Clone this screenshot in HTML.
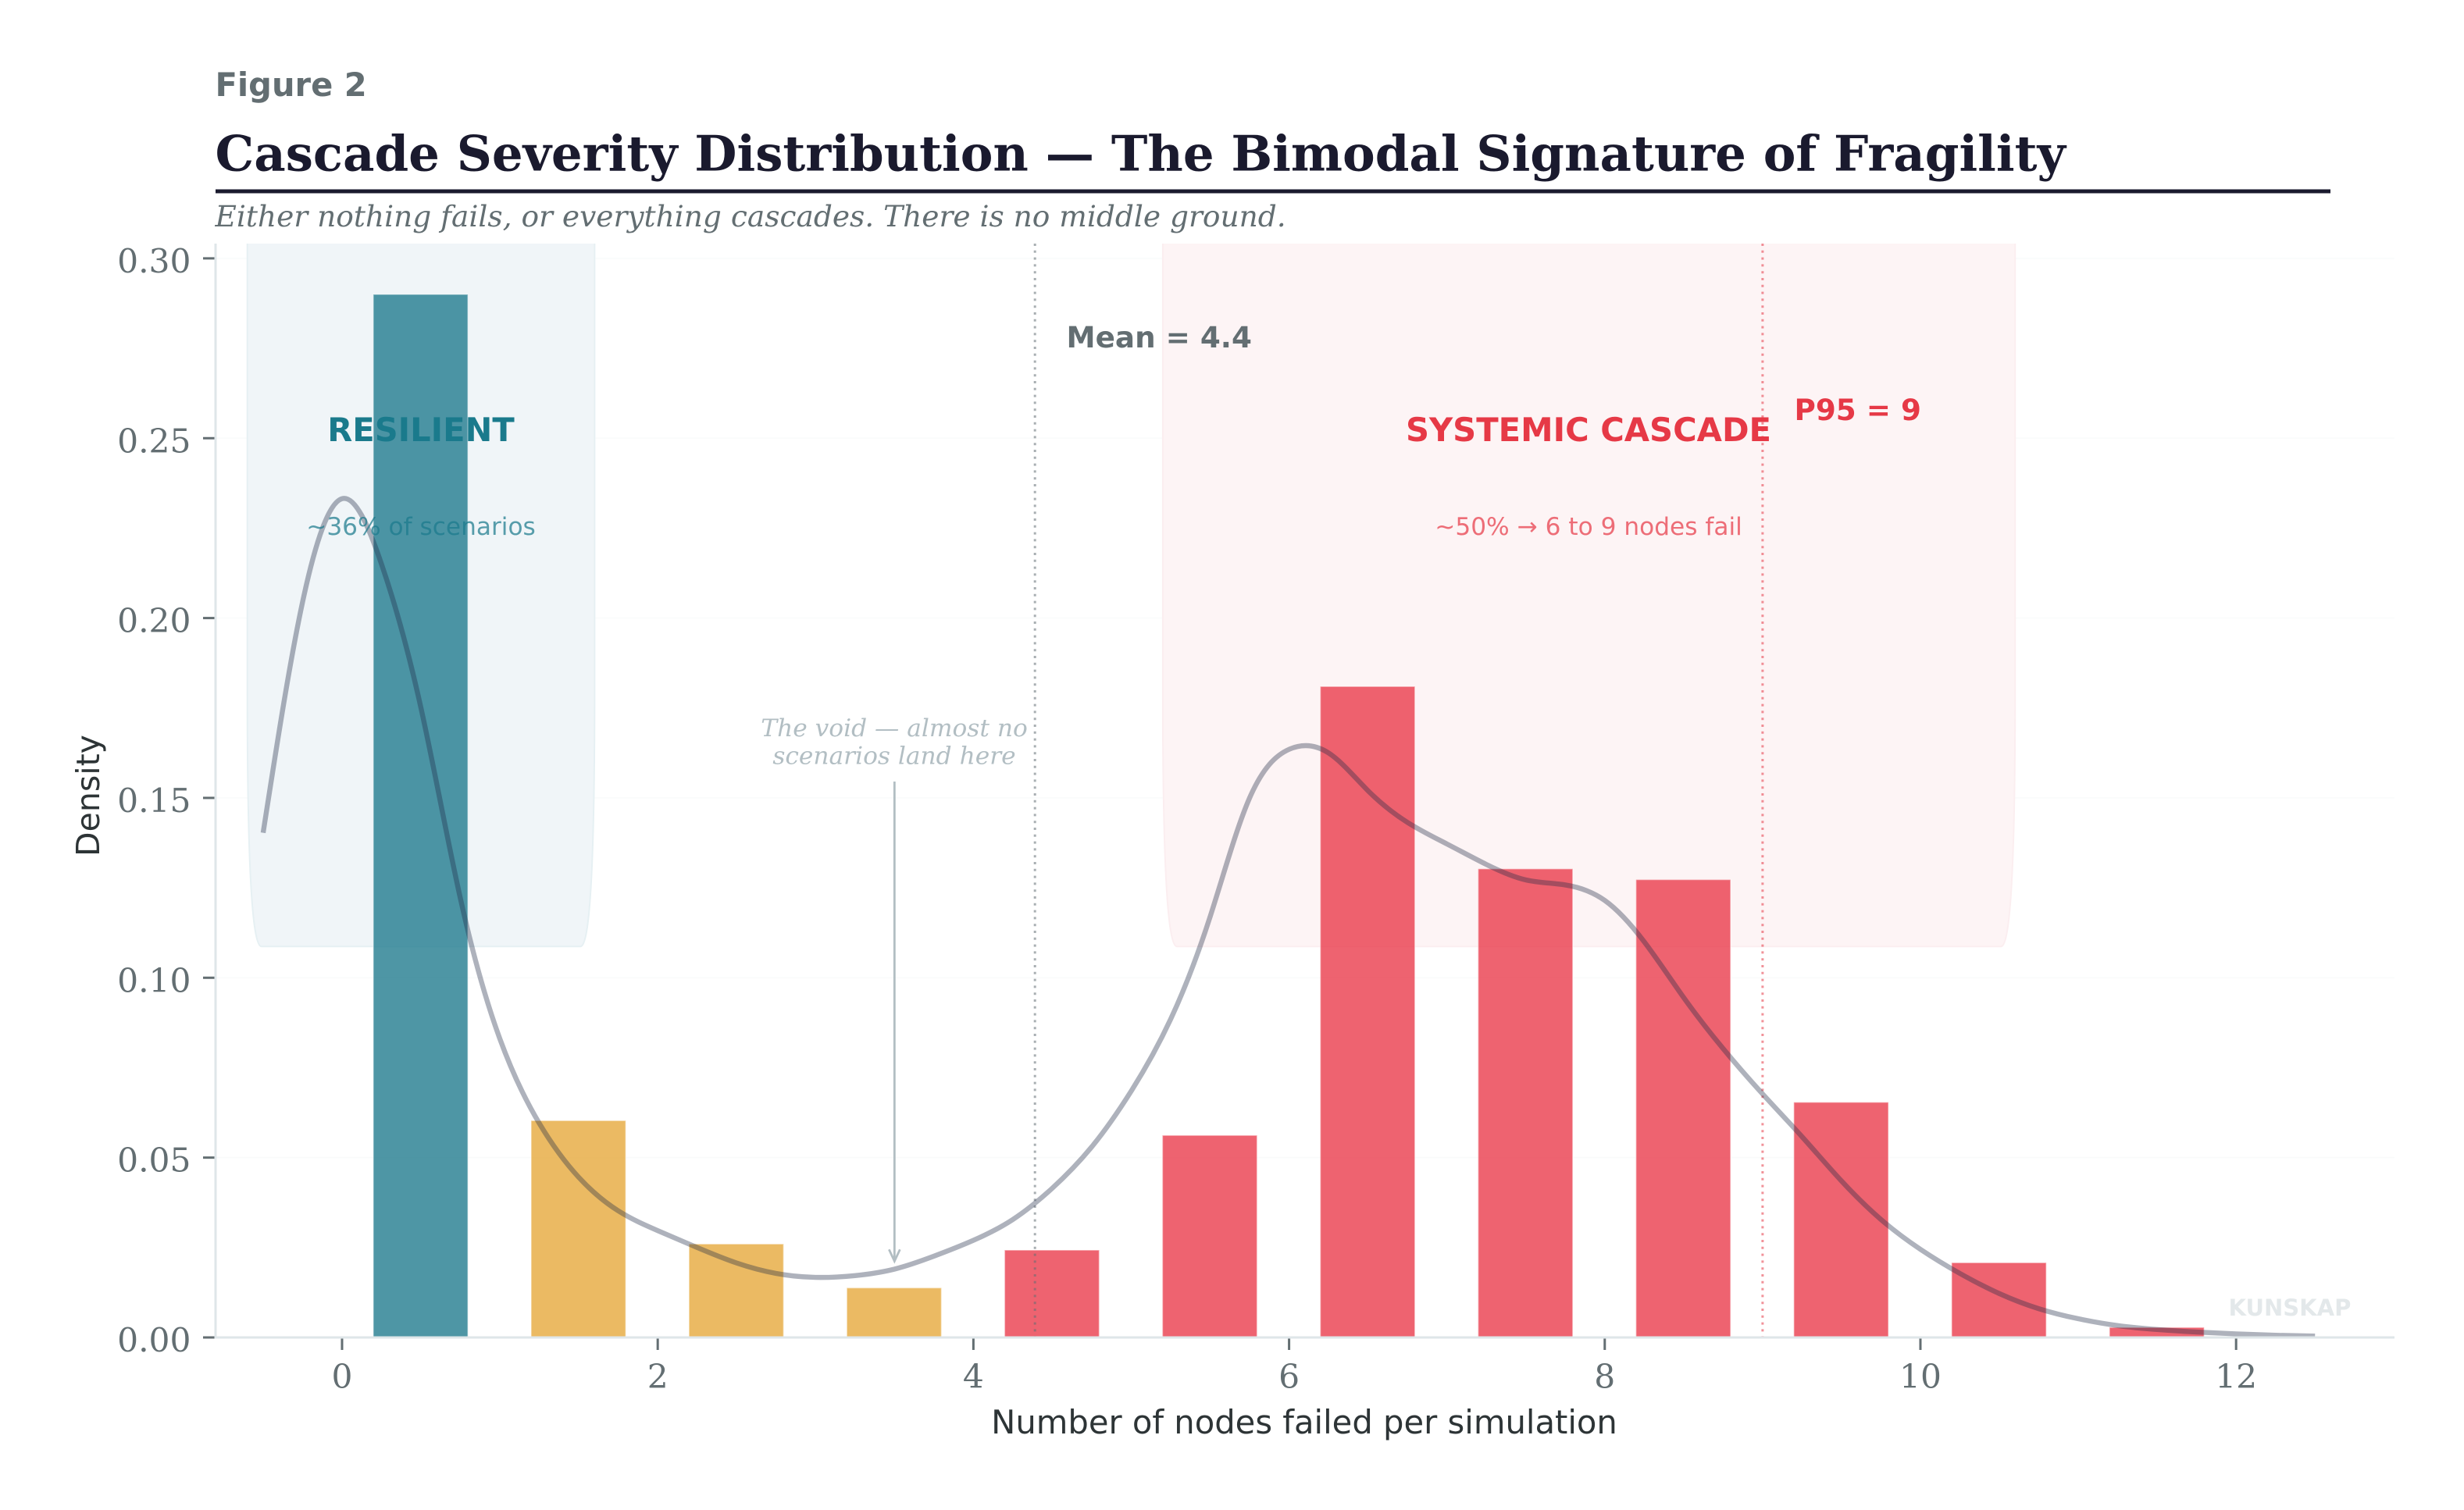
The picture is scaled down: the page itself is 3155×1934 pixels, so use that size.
<!DOCTYPE html>
<html lang="en">
<head>
<meta charset="utf-8">
<title>Cascade Severity Distribution</title>
<style>
html,body{margin:0;padding:0;background:#fff;}
svg{display:block;}
.sans{font-family:"DejaVu Sans","Liberation Sans",sans-serif;}
.serif{font-family:"DejaVu Serif","Liberation Serif",serif;}
</style>
</head>
<body>
<svg id="chart" xmlns="http://www.w3.org/2000/svg" width="3155" height="1934" viewBox="0 0 3155 1934">
  <defs>
    <clipPath id="plot-clip"><rect x="276" y="312" width="2790" height="1401"/></clipPath>
  </defs>
  <rect x="0" y="0" width="3155" height="1934" fill="#ffffff"/>
  <text class="sans" x="275.5" y="123" font-size="41.6" font-weight="700" fill="#636e72">Figure 2</text>
  <text class="serif" x="275.5" y="218.5" font-size="62.5" font-weight="700" fill="#1a1a2e">Cascade Severity Distribution — The Bimodal Signature of Fragility</text>
  <rect x="276" y="242.5" width="2708" height="5" fill="#1a1a2e"/>
  <text class="serif" x="275.5" y="290" font-size="37.5" font-style="italic" fill="#636e72">Either nothing fails, or everything cascades. There is no middle ground.</text>

  <g id="grid-layer"></g>
  <g id="band-layer" clip-path="url(#plot-clip)"></g>
  <g id="bar-layer"></g>
  <g id="ref-layer"></g>
  <g id="kde-layer"></g>
  <g id="axis-layer"></g>

  <text class="sans" x="539" y="565" text-anchor="middle" font-size="41.6" font-weight="700" fill="#1a7a8c">RESILIENT</text>
  <text class="sans" x="539" y="685" text-anchor="middle" font-size="31.2" fill="#1a7a8c" fill-opacity="0.72">~36% of scenarios</text>
  <text class="sans" x="2034" y="565" text-anchor="middle" font-size="41.7" font-weight="700" fill="#e63946">SYSTEMIC CASCADE</text>
  <text class="sans" x="2034" y="685" text-anchor="middle" font-size="31.2" fill="#e63946" fill-opacity="0.72">~50% → 6 to 9 nodes fail</text>
  <text class="sans" x="1365.5" y="445" font-size="37.3" font-weight="700" fill="#636e72">Mean = 4.4</text>
  <text class="sans" x="2297.5" y="538" font-size="37.3" font-weight="700" fill="#e63946">P95 = 9</text>
  <text class="serif" x="1145" y="943" text-anchor="middle" font-size="31.25" font-style="italic" fill="#b2bec3">The void — almost no</text>
  <text class="serif" x="1145" y="978.5" text-anchor="middle" font-size="31.25" font-style="italic" fill="#b2bec3">scenarios land here</text>
  <text class="sans" x="2853.5" y="1685" font-size="29" font-weight="700" fill="#e3e8ea">KUNSKAP</text>
  <text class="sans" x="1670" y="1836" text-anchor="middle" font-size="41.7" fill="#2d3436">Number of nodes failed per simulation</text>
  <text class="sans" x="127" y="1019" text-anchor="middle" font-size="41" fill="#2d3436" transform="rotate(-90 127 1019)">Density</text>
</svg>
<script>
// Chart data
const binCenters = [0.5, 1.5, 2.5, 3.5, 4.5, 5.5, 6.5, 7.5, 8.5, 9.5, 10.5, 11.5, 12.5];
const binDensity = [0.29, 0.0603, 0.026, 0.0138, 0.0243, 0.0562, 0.181, 0.1303, 0.1273, 0.0654, 0.0208, 0.0028, 0.0003];
const binZones = ['resilient', 'partial', 'partial', 'partial', 'systemic', 'systemic', 'systemic', 'systemic', 'systemic', 'systemic', 'systemic', 'systemic', 'systemic'];
const kdeX = [-0.5, -0.25, 0, 0.25, 0.5, 0.75, 1, 1.25, 1.5, 1.75, 2, 2.25, 2.5, 2.75, 3, 3.25, 3.5, 3.75, 4, 4.25, 4.5, 4.75, 5, 5.25, 5.5, 5.75, 6, 6.25, 6.5, 6.75, 7, 7.25, 7.5, 7.75, 8, 8.25, 8.5, 8.75, 9, 9.25, 9.5, 9.75, 10, 10.25, 10.5, 10.75, 11, 11.25, 11.5, 11.75, 12, 12.25, 12.5];
const kdeY = [0.1403, 0.2045, 0.2332, 0.215, 0.175, 0.122, 0.083, 0.0595, 0.0445, 0.0352, 0.0297, 0.025, 0.0207, 0.0178, 0.0167, 0.0172, 0.019, 0.0226, 0.027, 0.0328, 0.0415, 0.053, 0.0685, 0.0885, 0.117, 0.15, 0.1635, 0.1625, 0.152, 0.1432, 0.1372, 0.1315, 0.1272, 0.1258, 0.1215, 0.11, 0.0945, 0.0803, 0.0677, 0.0558, 0.0435, 0.0328, 0.0245, 0.0178, 0.0122, 0.008, 0.0052, 0.0033, 0.0022, 0.0015, 0.001, 0.0006, 0.0004];
const xTickValues = [0, 2, 4, 6, 8, 10, 12];
const xTickLabels = ['0', '2', '4', '6', '8', '10', '12'];
const yTickValues = [0, 0.05, 0.1, 0.15, 0.2, 0.25, 0.3];
const yTickLabels = ['0.00', '0.05', '0.10', '0.15', '0.20', '0.25', '0.30'];
const meanValue = 4.39;
const p95Value = 9.0;
const voidArrowX = 3.5;
const voidArrowTip = 0.0212;
const resilientBand = [-0.6, 1.6];
const systemicBand = [5.2, 10.6];
const bandFloor = 0.1087;
const barWidth = 0.6;

// Axis functions
function xScale(v) { return 276.3 + (v + 0.8) * 202.1; }
function yScale(v) { return 1713 - v * 4607; }

const NS = 'http://www.w3.org/2000/svg';
function mk(tag, parentId, attrs) {
  const el = document.createElementNS(NS, tag);
  Object.keys(attrs).forEach(function (k) { el.setAttribute(k, attrs[k]); });
  document.getElementById(parentId).appendChild(el);
  return el;
}

const zoneFill = { resilient: '#1c788c', partial: '#e6a737', systemic: '#e93748' };

// Gridlines
yTickValues.forEach(function (v) {
  const el = mk('line', 'grid-layer', { x1: 277, x2: 3066, y1: yScale(v), y2: yScale(v), stroke: '#fafbfb', 'stroke-width': 1.6 });
  
  
});

// Zone bands
function bandPath(b) {
  const l = xScale(b[0]), r = xScale(b[1]), f = yScale(bandFloor);
  return 'M' + l + ' 300 L' + l + ' ' + (f - 320) + ' Q' + l + ' ' + f + ' ' + (l + 18) + ' ' + f +
    ' L' + (r - 18) + ' ' + f + ' Q' + r + ' ' + f + ' ' + r + ' ' + (f - 320) + ' L' + r + ' 300 Z';
}
const resilientZone = mk('path', 'band-layer', { d: bandPath(resilientBand), fill: '#f0f5f8', stroke: '#e6f0f3', 'stroke-width': 2 });


const systemicZone = mk('path', 'band-layer', { d: bandPath(systemicBand), fill: '#fdf4f5', stroke: '#fbeef0', 'stroke-width': 2 });



// Bars
binCenters.forEach(function (c, i) {
  const x0 = xScale(c - barWidth / 2) - 0.5, x1 = xScale(c + barWidth / 2) - 0.5;
  const top = yScale(binDensity[i]), base = yScale(0);
  const bar = mk('rect', 'bar-layer', { x: x0, y: top, width: x1 - x0, height: base - top, fill: zoneFill[binZones[i]], 'fill-opacity': 0.78, stroke: '#ffffff', 'stroke-opacity': 0.45, 'stroke-width': 1.6 });
  
  
});

// Reference lines
const meanLine = mk('line', 'ref-layer', { x1: xScale(meanValue), x2: xScale(meanValue), y1: 312, y2: 1713, stroke: '#636e72', 'stroke-opacity': 0.55, 'stroke-width': 3, 'stroke-dasharray': '3 5.8' });


const p95Line = mk('line', 'ref-layer', { x1: xScale(p95Value), x2: xScale(p95Value), y1: 312, y2: 1713, stroke: '#e63946', 'stroke-opacity': 0.55, 'stroke-width': 3, 'stroke-dasharray': '3 5.8' });



// Void annotation arrow
const ax = xScale(voidArrowX), ay = yScale(voidArrowTip);
const arrowShaft = mk('line', 'ref-layer', { x1: ax, x2: ax, y1: 1001, y2: ay, stroke: '#b2bec3', 'stroke-width': 2.8 });


const arrowHead = mk('path', 'ref-layer', { d: 'M' + (ax - 7) + ' ' + (ay - 15) + ' L' + ax + ' ' + ay + ' L' + (ax + 7) + ' ' + (ay - 15), fill: 'none', stroke: '#b2bec3', 'stroke-width': 2.8 });



// KDE curve: natural cubic spline through the data points
function splinePath(xs, ys) {
  const n = xs.length;
  const px = xs.map(xScale), py = ys.map(yScale);
  const h = [], a = [], b = [], c = [], r = [], m = new Array(n).fill(0);
  for (let i = 0; i < n - 1; i++) { h[i] = px[i + 1] - px[i]; }
  for (let i = 1; i < n - 1; i++) {
    a[i] = h[i - 1];
    b[i] = 2 * (h[i - 1] + h[i]);
    c[i] = h[i];
    r[i] = 6 * ((py[i + 1] - py[i]) / h[i] - (py[i] - py[i - 1]) / h[i - 1]);
  }
  for (let i = 2; i < n - 1; i++) {
    const w = a[i] / b[i - 1];
    b[i] -= w * c[i - 1];
    r[i] -= w * r[i - 1];
  }
  for (let i = n - 2; i >= 1; i--) {
    m[i] = (r[i] - (i < n - 2 ? c[i] * m[i + 1] : 0)) / b[i];
  }
  let d = 'M' + px[0].toFixed(2) + ' ' + py[0].toFixed(2);
  for (let i = 0; i < n - 1; i++) {
    const s = (py[i + 1] - py[i]) / h[i];
    const d0 = s - h[i] * (2 * m[i] + m[i + 1]) / 6;
    const d1 = s + h[i] * (m[i] + 2 * m[i + 1]) / 6;
    d += ' C' + (px[i] + h[i] / 3).toFixed(2) + ' ' + (py[i] + d0 * h[i] / 3).toFixed(2) + ' ' +
      (px[i + 1] - h[i] / 3).toFixed(2) + ' ' + (py[i + 1] - d1 * h[i] / 3).toFixed(2) + ' ' +
      px[i + 1].toFixed(2) + ' ' + py[i + 1].toFixed(2);
  }
  return d;
}
const kde = mk('path', 'kde-layer', { d: splinePath(kdeX, kdeY), fill: 'none', stroke: '#1f2a44', 'stroke-opacity': 0.36, 'stroke-width': 6.4 });



// Axes
const leftSpine = mk('line', 'axis-layer', { x1: 276, x2: 276, y1: 312, y2: 1714.5, stroke: '#dfe6e9', 'stroke-width': 3 });


const bottomSpine = mk('line', 'axis-layer', { x1: 274.5, x2: 3066, y1: 1713, y2: 1713, stroke: '#dfe6e9', 'stroke-width': 3 });



xTickValues.forEach(function (v, i) {
  const px = xScale(v);
  const tick = mk('line', 'axis-layer', { x1: px, x2: px, y1: 1714.5, y2: 1729, stroke: '#636e72', 'stroke-width': 3 });
  
  
  const label = mk('text', 'axis-layer', { x: px, y: 1777.5, 'text-anchor': 'middle', 'font-size': 42.4, fill: '#636e72', class: 'serif' });
  label.textContent = xTickLabels[i];
  
  
});
yTickValues.forEach(function (v, i) {
  const py = yScale(v);
  const tick = mk('line', 'axis-layer', { x1: 260, x2: 274.5, y1: py, y2: py, stroke: '#636e72', 'stroke-width': 3 });
  
  
  const label = mk('text', 'axis-layer', { x: 244.5, y: py + 18, 'text-anchor': 'end', 'font-size': 42.4, fill: '#636e72', class: 'serif' });
  label.textContent = yTickLabels[i];
  
  
});
</script>
</body>
</html>
